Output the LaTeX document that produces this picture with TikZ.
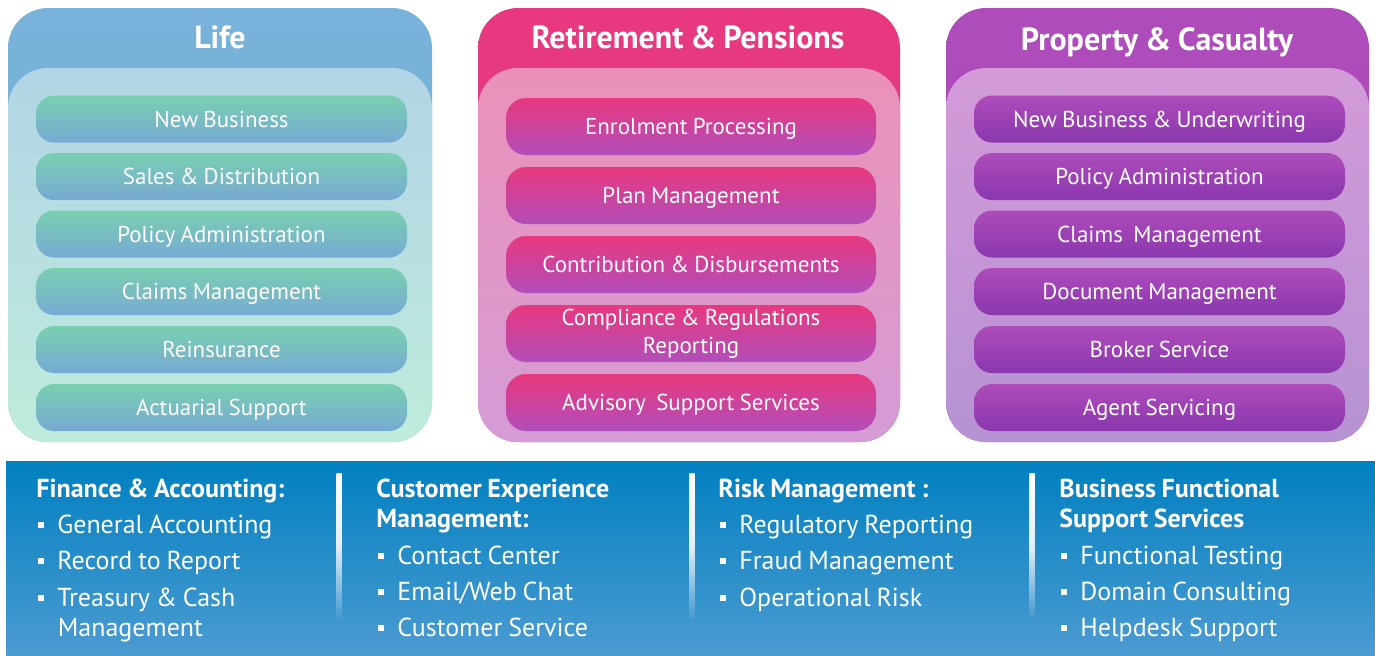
\documentclass[tikz,border=0pt]{standalone}
\usepackage{fontspec}
\setmainfont{PT Sans}[WordSpace=0.85]
\usetikzlibrary{calc,positioning}
\usepackage{xcolor}
% panel colours
\definecolor{lifeHT}{HTML}{79B2DA}
\definecolor{lifeHB}{HTML}{6DB0D3}
\definecolor{lifeIT}{HTML}{B2D4E6}
\definecolor{lifeIB}{HTML}{BEECDB}
\definecolor{lifePT}{HTML}{79D0B0}
\definecolor{lifePB}{HTML}{77A9D4}
\definecolor{retHT}{HTML}{E8387F}
\definecolor{retHB}{HTML}{D4408E}
\definecolor{retIT}{HTML}{EB91B8}
\definecolor{retIB}{HTML}{D59CD6}
\definecolor{retPT}{HTML}{E8387E}
\definecolor{retPB}{HTML}{B14EBA}
\definecolor{pcHT}{HTML}{AF4CBB}
\definecolor{pcHB}{HTML}{A848B8}
\definecolor{pcIT}{HTML}{D39AD8}
\definecolor{pcIB}{HTML}{B693D3}
\definecolor{pcPT}{HTML}{AE4CBB}
\definecolor{pcPB}{HTML}{8A37AE}
% band colours
\definecolor{bandT}{HTML}{0180C0}
\definecolor{bandB}{HTML}{4B9BD1}
\definecolor{sepB}{HTML}{3E96CE}
\newcommand{\bul}{\makebox[9.5pt][l]{\rule[2.5pt]{3pt}{3pt}}}

\begin{document}
\begin{tikzpicture}[x=0.5pt, y=0.5pt]
  \tikzset{%
    panel/.style={rounded corners=20pt},%
    pill/.style={rectangle, rounded corners=9pt, minimum width=185.5pt,%
      minimum height=23.5pt, inner sep=0pt, text=white,%
      text height=10pt, text depth=2pt,%
      font=\fontsize{11.5}{14}\selectfont},%
    lifepill/.style={pill, top color=lifePT, bottom color=lifePB},%
    retpill/.style={pill, top color=retPT, bottom color=retPB,%
      minimum width=185pt, minimum height=28.5pt, rounded corners=10pt},%
    pcpill/.style={pill, top color=pcPT, bottom color=pcPB},%
    title/.style={anchor=base, inner sep=0pt, text=white,%
      font=\fontsize{16}{19}\selectfont\bfseries},%
    head/.style={anchor=base west, inner sep=0pt, text=white,%
      font=\fontsize{13}{15}\selectfont\bfseries},%
    item/.style={anchor=base west, inner sep=0pt, text=white,%
      font=\fontsize{13}{15}\selectfont}%
  }%
  \useasboundingbox (0,0) rectangle (1375,-655);%

  %
  % Panels
  %
  \foreach \xl/\xr/\hdt/\hdb/\int/\inb in {8/432/lifeHT/lifeHB/lifeIT/lifeIB,%
      478/900/retHT/retHB/retIT/retIB,946/1369/pcHT/pcHB/pcIT/pcIB} {%
      \path[panel, top color=\hdt, bottom color=\hdb] (\xl,-8) rectangle (\xr,-442);%
      \path[panel, top color=\int, bottom color=\inb] (\xl,-68) rectangle (\xr,-442);%
    }%

  % Titles
  \node[title] (lifeTitle) at (220,-48) {Life};%
  \node[title] (retTitle) at (688,-48) {Retirement \& Pensions};%
  \node[title] (pcTitle) at (1157,-50) {Property \& Casualty};%

  % Life
  \foreach \i/\y/\t in {1/119/New Business,2/176.5/Sales \& Distribution,%
      3/234/Policy Administration,4/291.5/Claims Management,%
      5/349.5/Reinsurance,6/407.5/Actuarial Support} {%
      \node[lifepill] (life\i) at (221.5,-\y) {\t};%
    }%

  % Retirement & Pensions
  \foreach \i/\y/\th/\td/\t in {1/126.5/10pt/2pt/Enrolment Processing,%
      2/195.5/10pt/2pt/Plan Management,%
      3/264.5/10pt/2pt/Contribution \& Disbursements,%
      4/333.5/21.5pt/2pt/{Compliance \& Regulations\\Reporting},%
      5/402.5/10pt/2pt/Advisory~ Support Services} {%
      \node[retpill, align=center, text height=\th, text depth=\td] (ret\i) at (691,-\y) {\t};%
    }%

  % Property & Casualty
  \foreach \i/\y/\t in {1/119/New Business \& Underwriting,%
      2/176.5/Policy Administration,3/234/Claims~ Management,%
      4/291.5/Document Management,5/349.5/Broker Service,%
      6/407.5/Agent Servicing} {%
      \node[pcpill] (pc\i) at (1159.5,-\y) {\t};%
    }%

  %
  % Support band
  %
  \path[top color=bandT, bottom color=bandB] (6,-461) rectangle (1375,-655);%
  \foreach \x in {339,692,1032} {%
      \path[top color=white, bottom color=sepB, middle color=white!85!sepB]%
      (\x-2.5,-473) rectangle (\x+2.5,-620);%
    }%

  % Finance & Accounting
  \node[head] (fin0) at (36,-497) {Finance \& Accounting:};%
  \foreach \i/\y/\t in {1/533/General Accounting,2/569/Record to Report,%
      3/606/Treasury \& Cash} {%
      \node[item] (fin\i) at (38,-\y) {\bul\t};%
    }%
  \node[item] (fin4) at (57.5,-636) {Management};%

  % Customer Experience
  \node[head] (cx0) at (376,-497) {Customer Experience};%
  \node[head] (cx1) at (376,-527) {Management:};%
  \foreach \i/\y/\t in {2/564/Contact Center,3/600/{Email/Web Chat},%
      4/636/Customer Service} {%
      \node[item] (cx\i) at (378,-\y) {\bul\t};%
    }%

  % Risk Management
  \node[head] (risk0) at (718,-497) {Risk Management :};%
  \foreach \i/\y/\t in {1/533/Regulatory Reporting,2/569/Fraud Management,%
      3/606/Operational Risk} {%
      \node[item] (risk\i) at (720,-\y) {\bul\t};%
    }%

  % Business Functional Support
  \node[head] (bfs0) at (1059,-497) {Business Functional};%
  \node[head] (bfs1) at (1059,-527) {Support Services};%
  \foreach \i/\y/\t in {2/564/Functional Testing,3/600/Domain Consulting,%
      4/636/Helpdesk Support} {%
      \node[item] (bfs\i) at (1061,-\y) {\bul\t};%
    }%
\end{tikzpicture}
\end{document}
